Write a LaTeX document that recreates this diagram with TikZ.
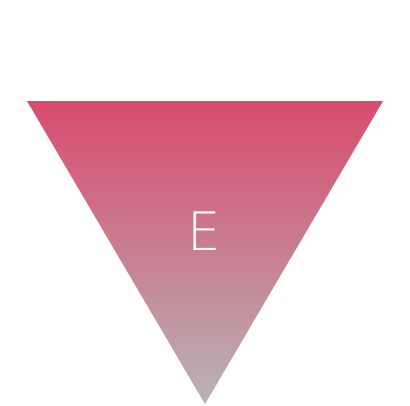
\documentclass[tikz,border=0pt]{standalone}
\usepackage{fontspec}
\newfontfamily\thinfont{DejaVu Sans}[UprightFont=* ExtraLight]
\definecolor{tripink}{RGB}{216,76,110}
\definecolor{trigray}{RGB}{184,179,180}
\usetikzlibrary{positioning}

\begin{document}
\begin{tikzpicture}[x=1pt,y=-1pt,
  letter/.style={text=white, font=\thinfont\fontsize{53}{53}\selectfont, inner sep=0pt}]
  \useasboundingbox (0,0) rectangle (410,405);

  % Triangle corners
  \coordinate (tl) at (27,101);
  \coordinate (tr) at (383,101);
  \coordinate (tip) at (205,404);

  % Shaded triangle
  \shade[top color=tripink, bottom color=trigray] (tl) -- (tr) -- (tip) -- cycle;

  % Letter
  \node[letter] (lettere) at (204.5,231) {E};
\end{tikzpicture}
\end{document}
